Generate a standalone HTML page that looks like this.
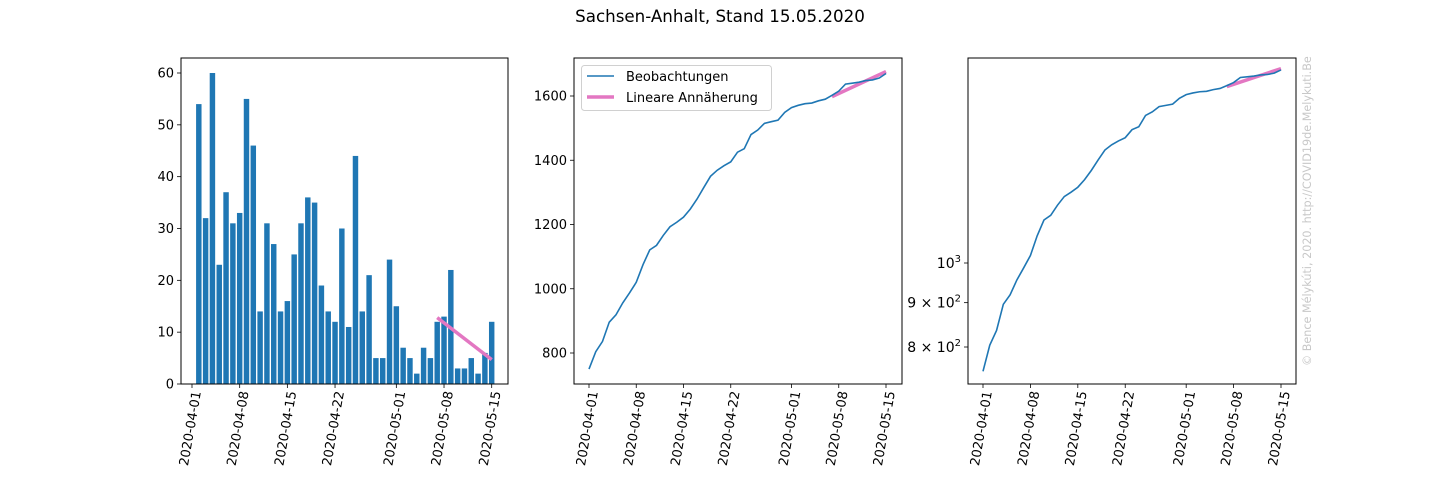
<!DOCTYPE html>
<html><head><meta charset="utf-8"><style>
body{margin:0;background:#fff}
svg{font-family:"DejaVu Sans","Liberation Sans",sans-serif;display:block}
</style></head><body>
<svg id="fig" width="1440" height="480" viewBox="0 0 1440 480">
<text x="720" y="22" font-size="16.7" text-anchor="middle">Sachsen-Anhalt, Stand 15.05.2020</text>
<text transform="translate(1311,366) rotate(-90)" font-size="11.2" fill="#c8c8c8">© Bence Mélykúti, 2020. http://COVID19de.Melykuti.Be</text>
</svg>
<script>
const NS='http://www.w3.org/2000/svg';
const svg=document.getElementById('fig');
// data
const tickDays=[0,7,14,21,30,37,44];
const tickLabels=['2020-04-01','2020-04-08','2020-04-15','2020-04-22','2020-05-01','2020-05-08','2020-05-15'];
const barDays=[1,2,3,4,5,6,7,8,9,10,11,12,13,14,15,16,17,18,19,20,21,22,23,24,25,26,27,28,29,30,31,32,33,34,35,36,37,38,39,40,41,42,43,44];
const newCases=[54,32,60,23,37,31,33,55,46,14,31,27,14,16,25,31,36,35,19,14,12,30,11,44,14,21,5,5,24,15,7,5,2,7,5,12,13,22,3,3,5,2,6,12];
const cumDays=[0,1,2,3,4,5,6,7,8,9,10,11,12,13,14,15,16,17,18,19,20,21,22,23,24,25,26,27,28,29,30,31,32,33,34,35,36,37,38,39,40,41,42,43,44];
const cumCases=[750,804,836,896,919,956,987,1020,1075,1121,1135,1166,1193,1207,1223,1248,1279,1315,1350,1369,1383,1395,1425,1436,1480,1494,1515,1520,1525,1549,1564,1571,1576,1578,1585,1590,1602,1615,1637,1640,1643,1648,1650,1656,1670];
const fitDays=[36,44];
const fitNew=[12.8,4.7];
const fitCum=[1598,1676];
const yTicksBar=[0,10,20,30,40,50,60];
const yTicksLin=[800,1000,1200,1400,1600];
const yTicksLog=[800,900,1000];
const yTicksLogMant=['8 × 10','9 × 10','10'];
const yTicksLogExp=['2','2','3'];

function el(tag,attrs,parent){const e=document.createElementNS(NS,tag);for(const k in attrs)e.setAttribute(k,attrs[k]);(parent||svg).appendChild(e);return e;}

const panels=[
 {name:'daily',left:181,right:508,x0:192,x1:491.7},
 {name:'cumulative',left:574,right:902,x0:589,x1:886},
 {name:'cumulative-log',left:968,right:1296,x0:983,x1:1281}
];
const axTop=58,axBottom=384;
panels.forEach(p=>{p.x=d=>p.x0+(p.x1-p.x0)*d/44;});
const yBar=v=>384-v*311/60;
const yLin=v=>96-(v-1600)*0.32125;
const yLog=v=>263-866.8*Math.log10(v/1000);

function xAxis(p,g){
 tickDays.forEach((d,i)=>{
  const x=p.x(d);
  el('line',{x1:x,x2:x,y1:axBottom,y2:axBottom+4,stroke:'#000','stroke-width':0.8},g);
  const t=el('text',{transform:`translate(${x+9},${axBottom+8}) rotate(-80)`,'font-size':13,'text-anchor':'end'},g);
  
  
  t.textContent=tickLabels[i];
 });
}
function yAxis(p,g,vals,labels,f){
 vals.forEach((v,i)=>{
  const y=f(v);
  el('line',{x1:p.left-4,x2:p.left,y1:y,y2:y,stroke:'#000','stroke-width':0.8},g);
  const t=el('text',{x:p.left-7,y:y+4.5,'font-size':13,'text-anchor':'end'},g);
  
  
  t.textContent=labels[i];
 });
}
function yAxisLog(p,g){
 yTicksLog.forEach((v,i)=>{
  const y=yLog(v);
  el('line',{x1:p.left-4,x2:p.left,y1:y,y2:y,stroke:'#000','stroke-width':0.8},g);
  const t=el('text',{x:p.left-7,y:y+5,'font-size':14,'text-anchor':'end'},g);
  
  
  const a=el('tspan',{},t);a.textContent=yTicksLogMant[i];
  const b=el('tspan',{dy:-6,'font-size':10},t);b.textContent=yTicksLogExp[i];
 });
}
function frame(p,g){
 const r=el('rect',{x:p.left,y:axTop,width:p.right-p.left,height:axBottom-axTop,fill:'none',stroke:'#000','stroke-width':1},g);
 
 
}
function path(pts,attrs,g){return el('polyline',Object.assign({points:pts.map(q=>q.join(',')).join(' '),fill:'none'},attrs),g);}

// panel 1
let p=panels[0];
let g=el('g',{});


const bw=(p.x1-p.x0)/44*0.8;
barDays.forEach((d,i)=>{
 const b=el('rect',{x:p.x(d)-bw/2,y:yBar(newCases[i]),width:bw,height:yBar(0)-yBar(newCases[i]),fill:'#1f77b4'},g);
 
 
});
let f=path(fitDays.map((d,i)=>[p.x(d),yBar(fitNew[i])]),{stroke:'#e377c2','stroke-width':3.5},g);


frame(p,g);xAxis(p,g);yAxis(p,g,yTicksBar,yTicksBar.map(String),yBar);

// panel 2
p=panels[1];
g=el('g',{});


f=path(fitDays.map((d,i)=>[p.x(d),yLin(fitCum[i])]),{stroke:'#e377c2','stroke-width':3.5},g);


let l=path(cumDays.map((d,i)=>[p.x(d),yLin(cumCases[i])]),{stroke:'#1f77b4','stroke-width':1.6},g);


frame(p,g);xAxis(p,g);yAxis(p,g,yTicksLin,yTicksLin.map(String),yLin);
const lg=el('g',{},g);


el('rect',{x:581.5,y:65.5,width:190,height:45,rx:3,fill:'#fff',stroke:'#d0d0d0'},lg);
el('line',{x1:587,x2:614,y1:76,y2:76,stroke:'#1f77b4','stroke-width':1.6},lg);
el('line',{x1:587,x2:614,y1:97,y2:97,stroke:'#e377c2','stroke-width':3.5},lg);
let t=el('text',{x:626,y:81,'font-size':13},lg);


t.textContent='Beobachtungen';
t=el('text',{x:626,y:102,'font-size':13},lg);


t.textContent='Lineare Annäherung';

// panel 3
p=panels[2];
g=el('g',{});


f=path(fitDays.map((d,i)=>[p.x(d),yLog(fitCum[i])]),{stroke:'#e377c2','stroke-width':3.5},g);


l=path(cumDays.map((d,i)=>[p.x(d),yLog(cumCases[i])]),{stroke:'#1f77b4','stroke-width':1.6},g);


frame(p,g);xAxis(p,g);yAxisLog(p,g);
</script>
</body></html>
